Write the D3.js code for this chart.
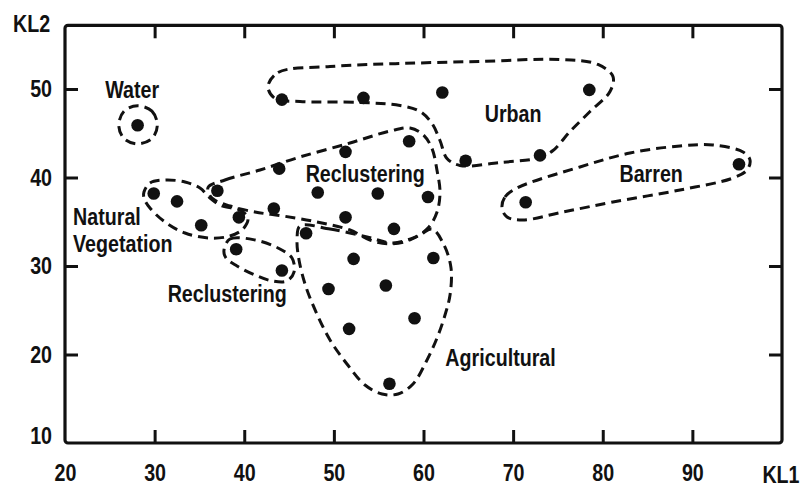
<!DOCTYPE html>
<html>
<head>
<meta charset="utf-8">
<script src="https://cdn.jsdelivr.net/npm/d3@7"></script>
<style>
  html, body { margin: 0; padding: 0; background: #fff; }
  svg text { font-family: "Liberation Sans", Arial, sans-serif; font-weight: bold; fill: #111; }
</style>
</head>
<body>
<svg id="chart" width="807" height="488"></svg>
<script>
// ---- Data ----
const xExtent = [20, 100];
const yExtent = [10, 57.2];
const xTickLabels = [20, 30, 40, 50, 60, 70, 80, 90];
const xTickMarks = [30, 40, 50, 60, 70, 80, 90];
const yTickLabels = [10, 20, 30, 40, 50];
const yTickMarks = [20, 30, 40, 50];
const xAxisTitle = "KL1";
const yAxisTitle = "KL2";

// sample points (KL1, KL2)
const pointsKL1 = [28.1,
  44.2, 53.3, 62.1, 78.5, 64.7, 73.0,
  71.4, 95.2,
  37.0, 43.9, 51.3, 58.4, 48.2, 54.9, 60.5, 43.3, 51.3, 56.7, 46.9,
  29.9, 32.5, 35.2, 39.4,
  39.1, 44.2,
  52.2, 61.1, 49.4, 55.8, 59.0, 51.7, 56.2];
const pointsKL2 = [45.9,
  48.8, 49.0, 49.6, 49.9, 41.9, 42.5,
  37.2, 41.5,
  38.5, 41.0, 42.9, 44.1, 38.3, 38.2, 37.8, 36.5, 35.5, 34.2, 33.7,
  38.2, 37.3, 34.6, 35.5,
  31.9, 29.5,
  30.8, 30.9, 27.4, 27.8, 24.1, 22.9, 16.7];

// cluster outlines (KL1, KL2 vertices)
const waterOutline = [[28.1,48.1],[29.7,47.5],[30.3,45.9],[29.7,44.4],[28.1,43.8],[26.6,44.4],[26.0,45.9],[26.6,47.5]];
const urbanOutline = [[42.65,50.28],[43.77,51.86],[49.57,52.54],[57.38,52.88],[66.30,53.11],[75.23,53.33],[79.47,52.77],[81.14,51.41],[80.81,49.72],[78.58,47.46],[76.35,45.20],[74.45,43.05],[73.00,42.26],[68.54,41.69],[64.07,41.36],[62.62,42.15],[61.84,44.18],[60.95,46.10],[59.61,47.46],[57.38,48.14],[52.91,48.48],[46.22,48.59],[43.43,48.93]];
const barrenOutline = [[68.76,36.55],[69.09,37.80],[70.43,38.81],[77.46,41.19],[83.04,42.77],[88.62,43.56],[92.30,43.67],[95.65,42.88],[96.43,41.98],[96.10,40.85],[94.53,39.94],[88.62,38.59],[81.14,37.23],[75.56,36.10],[71.10,35.20],[69.32,35.54]];
const reclusterUpperOutline = [[35.96,38.87],[37.85,39.72],[41.76,40.85],[46.22,42.32],[51.80,43.90],[56.26,45.25],[58.49,45.59],[59.94,44.86],[60.95,43.28],[61.51,40.79],[61.84,38.36],[61.51,36.10],[60.50,34.29],[58.49,32.94],[56.26,32.49],[54.03,32.94],[51.80,34.07],[48.12,34.97],[44.32,35.65],[41.20,36.10],[38.41,36.78],[36.40,37.68]];
const naturalOutline = [[28.81,38.36],[29.48,39.38],[31.16,39.72],[33.39,39.49],[35.06,38.81],[36.18,37.68],[37.52,36.78],[39.53,36.33],[40.42,35.42],[39.86,34.18],[38.41,33.39],[36.18,33.16],[33.39,33.73],[31.16,34.97],[29.48,36.55],[28.81,37.68]];
const reclusterLowerOutline = [[37.74,31.81],[38.41,33.05],[41.20,32.94],[43.77,32.03],[45.33,30.90],[45.55,29.32],[44.77,28.31],[43.10,28.31],[41.20,28.98],[39.19,30.00],[37.96,30.90]];
const agriOutline = [[46.22,34.52],[49.57,34.18],[53.70,33.28],[56.60,32.60],[59.39,33.39],[60.95,34.18],[62.29,32.37],[63.07,29.77],[62.96,26.72],[62.40,24.46],[61.51,21.86],[60.28,19.15],[58.83,16.67],[57.16,15.54],[55.37,15.54],[53.47,16.55],[51.46,18.93],[49.57,21.64],[48.01,24.80],[46.89,27.63],[46.11,30.68],[45.89,32.94]];
const outlines = [waterOutline, urbanOutline, barrenOutline, reclusterUpperOutline, naturalOutline, reclusterLowerOutline, agriOutline];

// cluster labels
const labelTexts = ["Water", "Urban", "Reclustering", "Barren", "Natural", "Vegetation", "Reclustering", "Agricultural"];
const labelKL1 = [27.5, 70.0, 53.5, 85.4, 20.9, 20.9, 38.1, 68.6];
const labelKL2 = [49.0, 46.3, 39.5, 39.5, 34.6, 31.6, 25.9, 18.7];
const labelAnchor = ["middle", "middle", "middle", "middle", "start", "start", "middle", "middle"];

// ---- Drawing ----
const svg = d3.select("#chart");
const x = d3.scaleLinear().domain(xExtent).range([65, 782]);
const y = d3.scaleLinear().domain([10, 50]).range([443, 89]);
const fontSize = 24;
const squeeze = 0.82;

function condense(sel) {
  sel.each(function () {
    const t = d3.select(this);
    const xa = +t.attr("x") || 0;
    t.attr("transform", `translate(${xa},0) scale(${squeeze},1) translate(${-xa},0)`);
  });
}

// frame
svg.append("rect")
  .attr("x", x(xExtent[0])).attr("y", y(yExtent[1]))
  .attr("width", x(xExtent[1]) - x(xExtent[0]))
  .attr("height", y(yExtent[0]) - y(yExtent[1]))
  .attr("rx", 3)
  .attr("fill", "none").attr("stroke", "#111").attr("stroke-width", 3.2);

function styleAxis(g) {
  g.select(".domain").remove();
  g.selectAll(".tick line").attr("stroke", "#111").attr("stroke-width", 3);
  g.selectAll(".tick text").attr("font-size", fontSize).attr("fill", "#111")
    .style("font-family", '"Liberation Sans", Arial, sans-serif').style("font-weight", "bold");
}

// tick marks (inward on all four sides)
svg.append("g").attr("transform", `translate(0,${y(yExtent[0])})`)
  .call(d3.axisBottom(x).tickValues(xTickMarks).tickSize(-13).tickFormat("")).call(styleAxis);
svg.append("g").attr("transform", `translate(0,${y(yExtent[1])})`)
  .call(d3.axisTop(x).tickValues(xTickMarks).tickSize(-13).tickFormat("")).call(styleAxis);
svg.append("g").attr("transform", `translate(${x(xExtent[0])},0)`)
  .call(d3.axisLeft(y).tickValues(yTickMarks).tickSize(-13).tickFormat("")).call(styleAxis);
svg.append("g").attr("transform", `translate(${x(xExtent[1])},0)`)
  .call(d3.axisRight(y).tickValues(yTickMarks).tickSize(-13).tickFormat("")).call(styleAxis);

// tick labels
const gxl = svg.append("g").attr("transform", `translate(0,${y(yExtent[0])})`)
  .call(d3.axisBottom(x).tickValues(xTickLabels).tickSize(0).tickPadding(21).tickFormat(d3.format("d"))).call(styleAxis);
const gyl = svg.append("g").attr("transform", `translate(${x(xExtent[0])},0)`)
  .call(d3.axisLeft(y).tickValues(yTickLabels).tickSize(0).tickPadding(13).tickFormat(d3.format("d"))).call(styleAxis);
gyl.selectAll(".tick text").filter(d => d === yExtent[0]).attr("dy", "0em");
condense(gxl.selectAll(".tick text"));
condense(gyl.selectAll(".tick text"));

// axis titles
const titles = svg.append("g");
titles.append("text").attr("x", 781).attr("y", 483).attr("text-anchor", "middle")
  .attr("font-size", fontSize).text(xAxisTitle);
titles.append("text").attr("x", 13).attr("y", 32).attr("text-anchor", "start")
  .attr("font-size", fontSize).text(yAxisTitle);
condense(titles.selectAll("text"));

// outlines
const outlineLine = d3.line()
  .x(d => x(d[0])).y(d => y(d[1]))
  .curve(d3.curveCatmullRomClosed.alpha(0.5));
svg.append("g").selectAll("path").data(outlines).join("path")
  .attr("d", outlineLine)
  .attr("fill", "none").attr("stroke", "#111").attr("stroke-width", 3)
  .attr("stroke-dasharray", "10,6").attr("stroke-linecap", "butt");

// points
svg.append("g").selectAll("circle").data(pointsKL1.map((v, i) => [v, pointsKL2[i]])).join("circle")
  .attr("cx", d => x(d[0])).attr("cy", d => y(d[1])).attr("r", 6.3).attr("fill", "#111");

// cluster labels
svg.append("g").selectAll("text").data(labelTexts).join("text")
  .attr("x", (d, i) => x(labelKL1[i])).attr("y", (d, i) => y(labelKL2[i]))
  .attr("text-anchor", (d, i) => labelAnchor[i])
  .attr("font-size", fontSize)
  .text(d => d)
  .call(condense);
</script>
</body>
</html>
